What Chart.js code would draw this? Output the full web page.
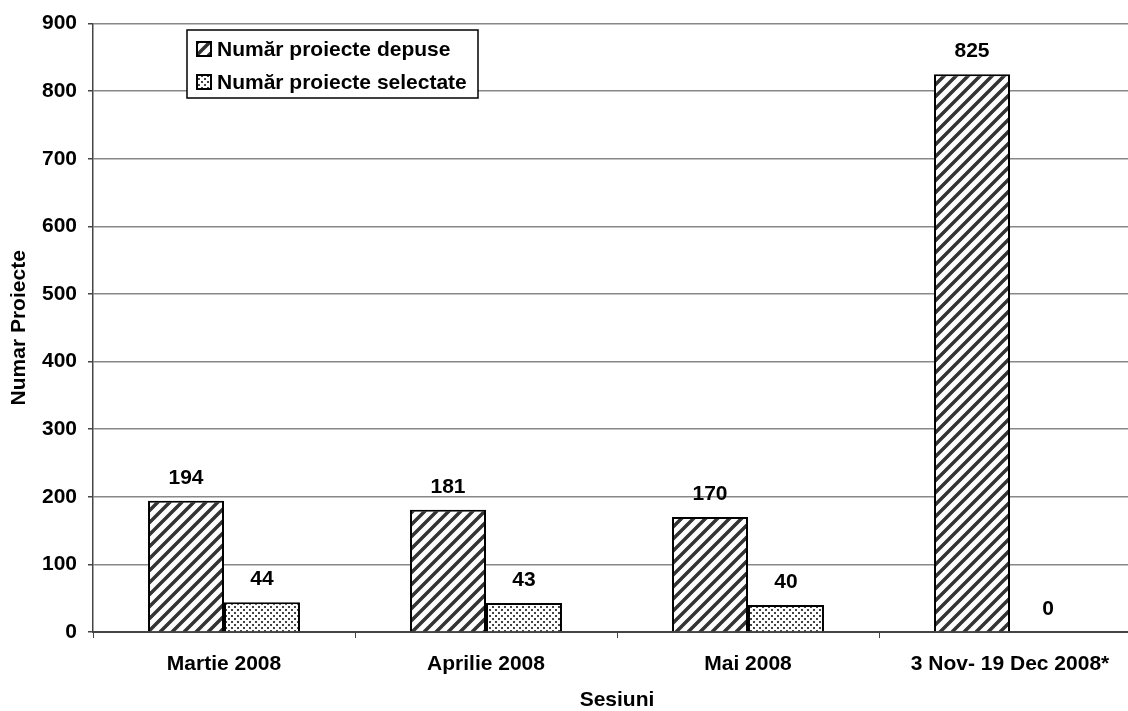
<!DOCTYPE html>
<html>
<head>
<meta charset="utf-8">
<script src="https://cdn.jsdelivr.net/npm/chart.js@4/dist/chart.umd.min.js"></script>
<style>
  html, body { margin: 0; padding: 0; background: #fff; overflow: hidden; }
  #wrap { width: 1160px; height: 711px; position: relative; }
</style>
</head>
<body>
<div id="wrap"><canvas id="sesiuniChart"></canvas></div>
<script>
// Data
const categories = ['Martie 2008', 'Aprilie 2008', 'Mai 2008', '3 Nov- 19 Dec 2008*'];
const depuse = [194, 181, 170, 825];
const selectate = [44, 43, 40, 0];
const seriesNames = ['Număr proiecte depuse', 'Număr proiecte selectate'];
const yTicks = [0, 100, 200, 300, 400, 500, 600, 700, 800, 900];

const FONT = '"Liberation Sans", Arial, sans-serif';
const FS = 21;

// Diagonal hatch pattern
function makeHatch() {
  const s = 12;
  const c = document.createElement('canvas');
  c.width = s; c.height = s;
  const g = c.getContext('2d');
  g.fillStyle = '#fff';
  g.fillRect(0, 0, s, s);
  g.strokeStyle = '#333';
  g.lineWidth = 3.5;
  g.beginPath();
  g.moveTo(0, s); g.lineTo(s, 0);
  g.moveTo(-2, 2); g.lineTo(2, -2);
  g.moveTo(s - 2, s + 2); g.lineTo(s + 2, s - 2);
  g.stroke();
  return g.createPattern(c, 'repeat');
}

// Stipple pattern
function makeDots() {
  const s = 6;
  const c = document.createElement('canvas');
  c.width = s; c.height = s;
  const g = c.getContext('2d');
  g.fillStyle = '#fff';
  g.fillRect(0, 0, s, s);
  g.fillStyle = '#444';
  g.fillRect(0, 0, 2, 2);
  g.fillRect(3, 3, 2, 2);
  return g.createPattern(c, 'repeat');
}

const hatch = makeHatch();
const dots = makeDots();

// value labels above the bars
const valueLabels = {
  id: 'valueLabels',
  afterDatasetsDraw(chart) {
    const ctx = chart.ctx;
    ctx.save();
    ctx.font = 'bold ' + FS + 'px ' + FONT;
    ctx.fillStyle = '#000';
    ctx.textAlign = 'center';
    ctx.textBaseline = 'alphabetic';
    chart.data.datasets.forEach((ds, i) => {
      chart.getDatasetMeta(i).data.forEach((bar, j) => {
        ctx.fillText(String(ds.data[j]), bar.x, bar.y - 17);
      });
    });
    ctx.restore();
  }
};

// boxed legend inside the plot
const boxLegend = {
  id: 'boxLegend',
  afterDraw(chart) {
    const ctx = chart.ctx;
    const x = 187, y = 30, w = 291, h = 68;
    ctx.save();
    ctx.fillStyle = '#fff';
    ctx.fillRect(x, y, w, h);
    ctx.strokeStyle = '#000';
    ctx.lineWidth = 1.5;
    ctx.strokeRect(x, y, w, h);
    ctx.font = 'bold ' + FS + 'px ' + FONT;
    ctx.textBaseline = 'middle';
    ctx.textAlign = 'left';
    chart.data.datasets.forEach((ds, i) => {
      const cy = y + 19 + i * 33;
      ctx.fillStyle = ds.backgroundColor;
      ctx.fillRect(197, cy - 7, 14, 14);
      ctx.strokeStyle = '#000';
      ctx.lineWidth = 2;
      ctx.strokeRect(197, cy - 7, 14, 14);
      ctx.fillStyle = '#000';
      ctx.fillText(ds.label, 217, cy + 1);
    });
    ctx.restore();
  }
};

new Chart(document.getElementById('sesiuniChart'), {
  type: 'bar',
  data: {
    labels: categories,
    datasets: [
      { label: seriesNames[0], data: depuse, backgroundColor: hatch, borderColor: '#000', borderWidth: 2 },
      { label: seriesNames[1], data: selectate, backgroundColor: dots, borderColor: '#000', borderWidth: 2 }
    ]
  },
  options: {
    responsive: true,
    maintainAspectRatio: false,
    animation: false,
    layout: { padding: { top: 22, left: 0, right: 19, bottom: 0 } },
    datasets: { bar: { categoryPercentage: 0.58, barPercentage: 1 } },
    plugins: { legend: { display: false }, tooltip: { enabled: false } },
    scales: {
      x: {
        afterFit(scale) { scale.height = 79; },
        grid: { display: true, drawOnChartArea: false, drawTicks: true, tickLength: 6, tickColor: '#444', offset: true },
        border: { color: '#444', width: 2 },
        ticks: { color: '#000', font: { family: FONT, size: FS, weight: 'bold' }, padding: 14, maxRotation: 0 },
        title: { display: true, text: 'Sesiuni', color: '#000', font: { family: FONT, size: FS, weight: 'bold', lineHeight: 1 }, padding: { top: 0, bottom: 0 } }
      },
      y: {
        min: 0,
        max: 900,
        afterFit(scale) { scale.width = 93; },
        afterBuildTicks(scale) { scale.ticks = yTicks.map(v => ({ value: v })); },
        grid: { color: '#888', lineWidth: 1.5, tickLength: 5, tickColor: '#444' },
        border: { color: '#444', width: 1.5 },
        ticks: { color: '#000', font: { family: FONT, size: FS, weight: 'bold' }, padding: 11 },
        title: { display: true, text: 'Numar Proiecte', color: '#000', font: { family: FONT, size: FS, weight: 'bold', lineHeight: 1 }, padding: { top: 9, bottom: 0 } }
      }
    }
  },
  plugins: [valueLabels, boxLegend]
});
</script>
</body>
</html>
